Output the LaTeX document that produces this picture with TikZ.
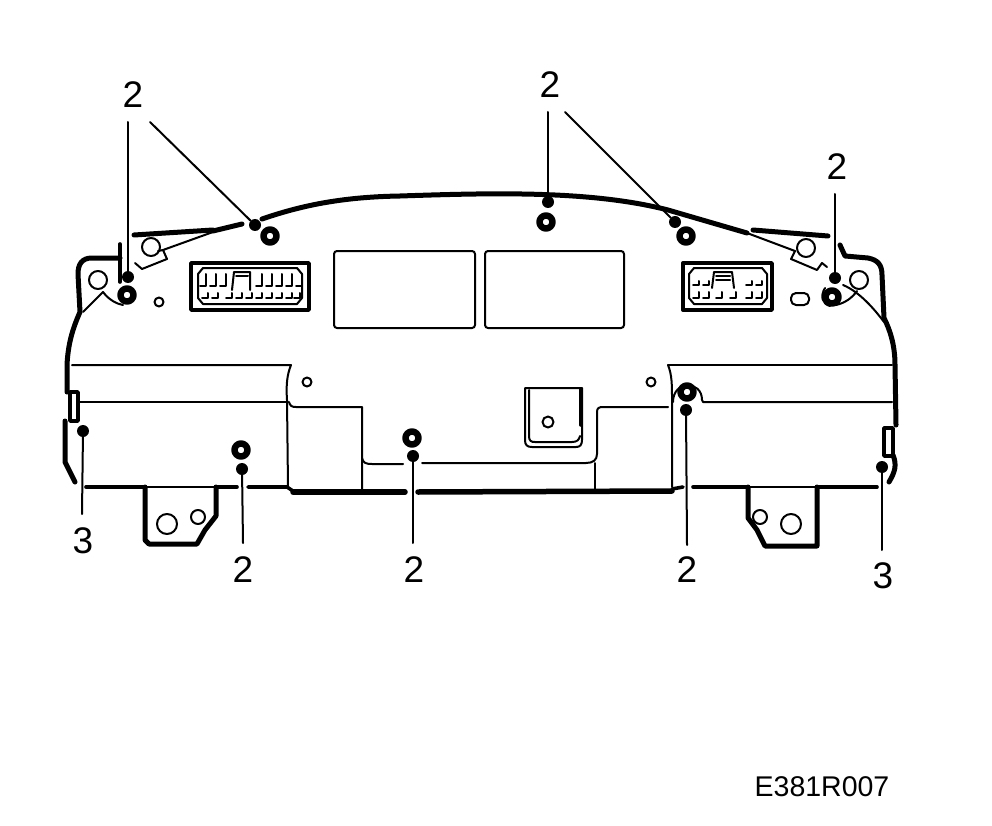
\documentclass[tikz,border=0pt]{standalone}
\usepackage{fontspec}
\setmainfont{Liberation Sans}
\begin{document}
\begin{tikzpicture}[x=1pt,y=-1pt,line join=round,line cap=round]
    \tikzstyle{heavy} = [line width=5pt]
    \tikzstyle{medium} = [line width=3.6pt]
    \tikzstyle{thin line} = [line width=2pt]
    \tikzstyle{grommet} = [circle,draw,line width=6.5pt,minimum size=13pt,inner sep=0pt]
    \tikzstyle{hole} = [circle,draw,line width=2pt,inner sep=0pt]
    \tikzstyle{lead dot} = [circle,fill,minimum size=12pt,inner sep=0pt]
    \tikzstyle{leader} = [line width=2pt]
    \tikzstyle{callout} = [font=\fontsize{37}{37}\selectfont,inner sep=0pt]
    \useasboundingbox (0,0) rectangle (992,826);
    % outer housing, top edge
    \draw[heavy] (134,235) -- (213,230);
    \draw[heavy] (213,231) -- (242,224);
    \draw[heavy] (262,219) .. controls (300,206) and (340,197) .. (400,196)
        .. controls (490,193) and (590,190) .. (668,210) -- (747,233);
    \draw[heavy] (753,230) -- (828,236);
    % left end
    \draw[heavy] (120,258) -- (92,258) .. controls (82,258) and (78,264) .. (78,274)
        -- (80,312) .. controls (72,330) and (68,345) .. (67,365) -- (67,392);
    \draw[medium] (120,244) -- (120,282);
    \draw[heavy] (65,421) -- (65,462) -- (75,482);
    \draw[medium] (70,392) rectangle (78,421);
    \draw[thin line] (83,312) -- (103,292) .. controls (109,300) and (117,304) .. (123,305);
    \draw[thin line] (213,232) -- (163,250) -- (167,259) -- (142,269) -- (135,263);
    \draw[thin line] (163,250) -- (158,251);
    % right end
    \draw[heavy] (840,245) -- (845,256) -- (868,258) .. controls (878,260) and (882,265) .. (882,275)
        -- (884,318) .. controls (890,330) and (895,345) .. (895,365) -- (896,425);
    \draw[heavy] (893,455) .. controls (897,465) and (895,472) .. (889,482);
    \draw[medium] (884,428) rectangle (893,456);
    \draw[thin line] (843,285) .. controls (860,292) and (875,310) .. (884,322);
    \draw[thin line] (857,291) .. controls (852,298) and (845,303) .. (836,305);
    \draw[thin line] (825,288) .. controls (820,296) and (822,304) .. (830,306);
    \draw[thin line] (747,233) -- (795,251) -- (791,259) -- (817,270) -- (822,263) -- (827,267);
    % panels
    \node[draw,line width=2pt,rounded corners=3pt,minimum width=141pt,minimum height=77pt] (panelL) at (404.5,289.5) {};
    \node[draw,line width=2pt,rounded corners=3pt,minimum width=139pt,minimum height=77pt] (panelR) at (554.5,289.5) {};
    % left plug
    \draw[line width=3.4pt] (191,263) rectangle (309,310);
    \draw[thin line] (198,274) -- (203,268) -- (297,268) -- (302,274) -- (302,298) -- (297,304) -- (203,304) -- (198,298) -- cycle;
    \foreach \x in {200,210,220,256,266,276,286,296}
        \draw[thin line] (\x,286) -- (\x+6,286) -- (\x+6,274);
    \foreach \x in {202,212,226,236,246,256,266,276,286,294}
        \draw[thin line] (\x,298) -- (\x+6,298) -- (\x+6,293);
    \draw[thin line] (232,290) -- (234,272) -- (250,272) -- (250,290);
    \draw[thin line] (236,276) -- (248,276);
    % right plug
    \draw[line width=3.4pt] (683,263) rectangle (772,310);
    \draw[thin line] (689,274) -- (694,268) -- (762,268) -- (767,274) -- (767,298) -- (762,304) -- (694,304) -- (689,298) -- cycle;
    \foreach \x in {693,703,746,756}
        \draw[thin line] (\x,285) -- (\x+6,285) -- (\x+6,281);
    \foreach \x in {693,703,716,730,746,756}
        \draw[thin line] (\x,298) -- (\x+6,298) -- (\x+6,292);
    \draw[thin line] (712,288) -- (714,272) -- (732,272) -- (734,288);
    \draw[thin line] (716,276) -- (730,276);
    \draw[thin line] (716,280) -- (730,280);
    % lower housing, left
    \draw[thin line] (72,365) -- (291,365) .. controls (287,375) and (286,385) .. (287,400) -- (288,487);
    \draw[thin line] (78,402) -- (288,402);
    \draw[thin line] (289,402) .. controls (290,406) and (292,407) .. (296,407) -- (362,407) -- (362,490);
    \draw[thin line] (362,458) .. controls (363,463) and (366,464) .. (372,464) -- (403,464);
    \draw[thin line] (422,463) -- (586,463) .. controls (593,463) and (597,460) .. (597,454)
        -- (597,412) .. controls (597,408) and (599,407) .. (603,407) -- (668,407);
    \draw[thin line] (595,463) -- (595,490);
    % lower housing, right
    \draw[thin line] (668,365) -- (892,365);
    \draw[thin line] (668,365) .. controls (672,375) and (672,385) .. (672,400) -- (672,487);
    \draw[thin line] (673,402) .. controls (673,380) and (702,380) .. (702,400) -- (703,402) -- (892,402);
    % bottom edge
    \draw[medium] (86,487) -- (143,487);
    \draw[heavy] (145,487) -- (145,540) -- (149,544) -- (197,544) -- (205,530) -- (216,516) -- (216,487);
    \draw[thin line] (145,487) -- (216,487);
    \draw[medium] (216,487) -- (237,487);
    \draw[medium] (248,487) -- (287,487) -- (293,491);
    \draw[line width=5.5pt] (293,492) -- (405,492);
    \draw[line width=5.5pt] (418,492) -- (672,491);
    \draw[medium] (672,489) -- (683,487);
    \draw[medium] (693,487) -- (748,487);
    \draw[heavy] (748,487) -- (748,518) -- (757,530) -- (765,546) -- (817,546) -- (817,487);
    \draw[thin line] (748,487) -- (817,487);
    \draw[medium] (817,487) -- (877,487);
    % centre bracket
    \draw[thin line] (525,388) -- (582,388) -- (582,440) .. controls (582,445) and (580,447) .. (576,447)
        -- (532,447) .. controls (527,447) and (525,445) .. (525,440) -- cycle;
    \draw[thin line] (529,390) -- (529,436) .. controls (529,441) and (531,442) .. (535,442) -- (572,442) .. controls (577,442) and (579,440) .. (580,436);
    \draw[medium] (581,389) -- (581,425);
    % mounting holes
    \node[hole,minimum size=18pt] (holeA) at (98,280) {};
    \node[hole,minimum size=18pt] (holeB) at (151,247) {};
    \node[hole,minimum size=9pt] (holeC) at (159,302) {};
    \node[hole,minimum size=18pt] (holeD) at (806,248) {};
    \node[hole,minimum size=18pt] (holeE) at (859,280) {};
    \node[hole,minimum width=18pt,minimum height=12pt,rounded corners=5pt,rectangle] (slotA) at (800,299) {};
    \node[hole,minimum size=9pt] (holeF) at (307,382) {};
    \node[hole,minimum size=9pt] (holeG) at (651,382) {};
    \node[hole,minimum size=11pt] (holeH) at (548,422) {};
    \node[hole,minimum size=20pt] (holeI) at (167,524) {};
    \node[hole,minimum size=14pt] (holeJ) at (198,517) {};
    \node[hole,minimum size=14pt] (holeK) at (760,517) {};
    \node[hole,minimum size=20pt] (holeL) at (791,524) {};
    % grommets
    \node[grommet] (gromA) at (127,295) {};
    \node[grommet] (gromB) at (270,236) {};
    \node[grommet] (gromC) at (546,222) {};
    \node[grommet] (gromD) at (686,236) {};
    \node[grommet] (gromE) at (832,297) {};
    \node[grommet] (gromF) at (241,450) {};
    \node[grommet] (gromG) at (412,438) {};
    \node[grommet] (gromH) at (687,392) {};
    % leaders
    \node[lead dot] (dotA) at (128,277) {};
    \node[lead dot] (dotB) at (255,225) {};
    \node[lead dot] (dotC) at (548,202) {};
    \node[lead dot] (dotD) at (675,222) {};
    \node[lead dot] (dotE) at (835,278) {};
    \node[lead dot] (dotF) at (83,431) {};
    \node[lead dot] (dotG) at (242,469) {};
    \node[lead dot] (dotH) at (413,456) {};
    \node[lead dot] (dotI) at (686,410) {};
    \node[lead dot] (dotJ) at (882,467) {};
    \coordinate (endA) at (128,122);
    \coordinate (endB) at (150,122);
    \coordinate (endC) at (548,112);
    \coordinate (endD) at (565,112);
    \coordinate (endE) at (835,194);
    \coordinate (endF) at (82,514);
    \coordinate (endG) at (243,543);
    \coordinate (endH) at (413,543);
    \coordinate (endI) at (687,545);
    \coordinate (endJ) at (882,550);
    \draw[leader] (endA) -- (dotA);
    \draw[leader] (endB) -- (dotB);
    \draw[leader] (endC) -- (dotC);
    \draw[leader] (endD) -- (dotD);
    \draw[leader] (endE) -- (dotE);
    \draw[leader] (endF) -- (dotF);
    \draw[leader] (endG) -- (dotG);
    \draw[leader] (endH) -- (dotH);
    \draw[leader] (endI) -- (dotI);
    \draw[leader] (endJ) -- (dotJ);
    % labels
    \node[callout] (labA) at (133,95) {2};
    \node[callout] (labB) at (550,85) {2};
    \node[callout] (labC) at (837,167) {2};
    \node[callout] (labD) at (83,541) {3};
    \node[callout] (labE) at (243,570) {2};
    \node[callout] (labF) at (414,570) {2};
    \node[callout] (labG) at (687,570) {2};
    \node[callout] (labH) at (883,576) {3};
    \node[font=\fontsize{28.5}{28.5}\selectfont,inner sep=0pt] (code) at (822,787) {E381R007};
\end{tikzpicture}
\end{document}
